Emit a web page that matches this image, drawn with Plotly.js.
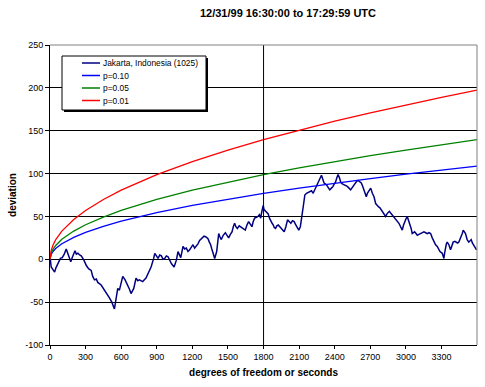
<!DOCTYPE html>
<html>
<head>
<meta charset="utf-8">
<script src="https://cdn.plot.ly/plotly-3.0.1.min.js"></script>
<style>html,body{margin:0;padding:0;background:#fff;}#chart{width:485px;height:387px;}</style>
</head>
<body>
<div id="chart"></div>
<script>
// ---- data ----
var seriesNames = ["Jakarta, Indonesia (1025)", "p=0.10", "p=0.05", "p=0.01"];
var chartTitle = "12/31/99 16:30:00 to 17:29:59 UTC";
var xTitle = "degrees of freedom or seconds";
var yTitle = "deviation";
var xTickVals = [0, 300, 600, 900, 1200, 1500, 1800, 2100, 2400, 2700, 3000, 3300];
var yTickVals = [-100, -50, 0, 50, 100, 150, 200, 250];
var markerSecond = 1800;

var jakartaX = [1,10,25,39,50,61,75,88,103,120,137,147,156,165,175,190,211,222,235,250,263,286,305,325,347,360,375,390,403,431,445,459,482,501,521,535,543,550,557,571,585,600,613,633,655,670,683,706,725,740,753,781,809,832,852,874,883,
911,925,939,953,967,981,995,1010,1023,1046,1055,1065,1079,1090,1102,1121,1135,1149,1163,1177,1191,1205,1219,1233,1247,1261,1280,1298,1315,1332,1343,1354,1364,1374,1388,1405,1415,1422,1433,1444,1460,1478,1492,1506,1520,1534,1545,1556,1567,1579,1595,1613,1630,1646,1660,1674,1688,1702,1713,1725,1740,1753,1765,1776,1783,1790,1797,1804,1811,1825,1839,1850,1862,1872,1882,1890,1901,1912,1924,1935,1946,1960,1974,1988,2002,2016,2030,2044,2058,2068,2078,2088,2097,2110,2120,2127,2134,2141,2148,2162,2176,2190,2204,2218,2232,2246,2256,2265,2275,2288,2300,2310,2320,2330,2344,2358,2372,2386,2396,2406,2418,2428,2440,2450,2464,2478,2492,2506,2520,2534,2544,2554,2563,2573,2585,2596,2610,2624,2636,2646,2656,2666,2675,2689,2703,2717,2731,2745,2759,2770,2781,2790,2801,2815,2829,2840,2849,2860,2871,2883,2894,2905,2913,2927,2941,2955,2969,2980,2989,3000,3011,3022,3034,3044,3053,3063,3073,3085,3096,3110,3124,3138,3152,3166,3180,3194,3208,3222,3236,3250,3264,3276,3287,3306,3320,3327,3334,3341,3348,3355,3362,3376,3387,3398,3412,3426,3436,3446,3456,3466,3475,3483,3492,3502,3510,3516,3530,3540,3550,3560,3567,3577,3587,3595];
var jakartaY = [2,-9,-12,-15,-10,-7,-3,1,2,6,12,8,5,1,-3,3,10,6,7,5,4,-1,-7,-11,-13,-20,-24,-23,-27,-30,-33,-36,-40,-45,-50,-55,-58,-52,-47,-34,-36,-28,-20,-24,-30,-35,-40,-34,-22,-25,-24,-26,-22,-15,-9,1,7,
1,5,4,0,1,4,3,-1,-5,-9,-5,-1,9,5,2,15,12,13,9,11,14,17,13,15,18,22,25,27,26,24,20,17,12,7,1,9,20,30,26,23,28,31,28,25,29,32,38,42,38,36,39,37,36,34,40,44,41,38,44,48,49,50,52,48,54,60,63,58,57,55,53,48,44,42,40,37,36,39,40,38,36,34,32,38,46,44,42,45,44,41,38,36,34,38,46,53,61,68,75,77,78,79,80,77,81,85,88,92,95,98,93,89,88,87,84,81,83,85,88,90,95,99,95,90,88,87,86,85,83,81,83,85,87,89,91,92,90,89,85,81,77,73,77,81,83,77,73,65,62,61,60,58,57,53,50,53,55,56,54,52,50,48,46,44,42,38,34,40,44,47,50,46,42,36,30,31,32,30,28,29,30,31,32,31,30,31,30,25,20,17,15,12,9,7,1,8,15,18,20,19,17,11,15,20,21,20,19,20,23,26,30,34,32,30,26,23,20,21,23,19,17,15,13,11];

var dfN = [0,5,10,25,50,100,150,200,300,450,600,900,1200,1500,1800,2100,2400,2700,3000,3300,3599];
var p10 = [0,4.1,5.7,9.1,12.8,18.1,22.2,25.6,31.4,38.4,44.4,54.4,62.8,70.2,76.9,83.1,88.8,94.2,99.3,104.1,108.7];
var p05 = [0,5.2,7.4,11.6,16.4,23.3,28.5,32.9,40.3,49.3,57.0,69.8,80.6,90.1,98.7,106.6,114.0,120.9,127.4,133.6,139.6];
var p01 = [0,7.4,10.4,16.4,23.3,32.9,40.3,46.5,57.0,69.8,80.6,98.7,114.0,127.4,139.6,150.7,161.2,170.9,180.2,189.0,197.4];

// ---- styling ----
var colors = ["#000080", "#0000FF", "#008000", "#FF0000"];
var FONT = "Arial, 'Liberation Sans', sans-serif";
var W = 485, H = 387, L = 50, R = 8, T = 45, B = 42;
var pw = W - L - R, ph = H - T - B;
function xp(px) { return (px - L) / pw; }
function yp(py) { return (H - B - py) / ph; }

var traces = [
  {x: jakartaX, y: jakartaY, name: seriesNames[0], mode: "lines", line: {color: colors[0], width: 1.5}},
  {x: dfN, y: p10, name: seriesNames[1], mode: "lines", line: {color: colors[1], width: 1.3}},
  {x: dfN, y: p05, name: seriesNames[2], mode: "lines", line: {color: colors[2], width: 1.3}},
  {x: dfN, y: p01, name: seriesNames[3], mode: "lines", line: {color: colors[3], width: 1.3}}
];

// custom compact legend (Excel style box with shadow)
var lgL = 62, lgR = 206, lgT = 56, lgB = 110;
var rowY = [63, 75.5, 88, 100.5];
var shapes = [
  {type: "line", xref: "x", yref: "paper", x0: markerSecond, x1: markerSecond, y0: 0, y1: 1, line: {color: "#000", width: 1}, layer: "above"},
  {type: "line", xref: "paper", yref: "paper", x0: 0, x1: 1, y0: 1, y1: 1, line: {color: "#808080", width: 1}, layer: "above"},
  {type: "line", xref: "paper", yref: "paper", x0: 1, x1: 1, y0: 0, y1: 1, line: {color: "#808080", width: 1}, layer: "above"},
  {type: "rect", xref: "paper", yref: "paper", x0: xp(lgL + 2), x1: xp(lgR + 2), y0: yp(lgB + 2), y1: yp(lgT + 2), fillcolor: "#000", line: {width: 0}, layer: "above"},
  {type: "rect", xref: "paper", yref: "paper", x0: xp(lgL), x1: xp(lgR), y0: yp(lgB), y1: yp(lgT), fillcolor: "#fff", line: {color: "#000", width: 1}, layer: "above"}
];
var annotations = [];
for (var i = 0; i < seriesNames.length; i++) {
  shapes.push({type: "line", xref: "paper", yref: "paper", x0: xp(82), x1: xp(100), y0: yp(rowY[i]), y1: yp(rowY[i]), line: {color: colors[i], width: 1.5}, layer: "above"});
  annotations.push({xref: "paper", yref: "paper", x: xp(101), y: yp(rowY[i]), xanchor: "left", yanchor: "middle", showarrow: false, text: seriesNames[i], font: {family: FONT, size: 8.4, color: "#000"}});
}

var layout = {
  width: W, height: H,
  margin: {l: L, r: R, t: T, b: B, pad: 0},
  paper_bgcolor: "#fff", plot_bgcolor: "#fff",
  showlegend: false,
  font: {family: FONT, size: 9, color: "#000"},
  title: {text: "<b>" + chartTitle + "</b>", font: {family: FONT, size: 11, color: "#000"}, x: 288 / W, xanchor: "center", y: 1 - 13.5 / H, yanchor: "middle", xref: "container", yref: "container"},
  xaxis: {
    range: [0, 3599], tickvals: xTickVals, ticktext: xTickVals.map(String),
    showgrid: false, zeroline: false, showline: true, linecolor: "#000", linewidth: 1,
    ticks: "outside", ticklen: 3, tickcolor: "#000", tickfont: {family: FONT, size: 9, color: "#000"},
    title: {text: "<b>" + xTitle + "</b>", font: {family: FONT, size: 10, color: "#000"}, standoff: 8}
  },
  yaxis: {
    range: [-100, 250], tickvals: yTickVals, ticktext: yTickVals.map(String),
    showgrid: true, gridcolor: "#000", gridwidth: 1,
    zeroline: true, zerolinecolor: "#000", zerolinewidth: 1,
    showline: true, linecolor: "#000", linewidth: 1,
    ticks: "outside", ticklen: 4, tickcolor: "#000", tickfont: {family: FONT, size: 9, color: "#000"},
    title: {text: "<b>" + yTitle + "</b>", font: {family: FONT, size: 10, color: "#000"}, standoff: 6}
  },
  shapes: shapes,
  annotations: annotations
};

Plotly.newPlot("chart", traces, layout, {staticPlot: true, displayModeBar: false});
</script>
</body>
</html>
